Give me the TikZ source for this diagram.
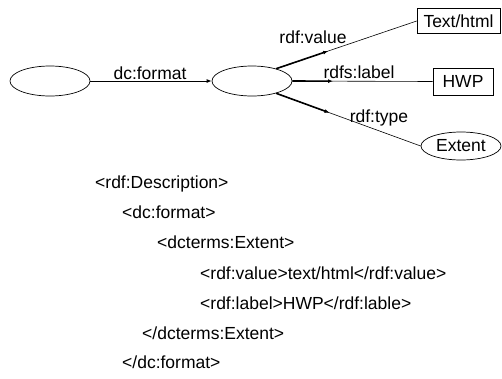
\documentclass[tikz,border=0pt]{standalone}
\usepackage{fontspec}
\setmainfont{Liberation Sans}
\usetikzlibrary{arrows.meta,calc,shapes.geometric}

\tikzset{
  resource/.style={draw, ellipse, line width=0.7pt, minimum width=80pt, minimum height=30pt, inner sep=0pt},
  literal/.style={draw, rectangle, line width=0.7pt, inner sep=0pt, font=\fontsize{17.5}{20}\selectfont},
  classnode/.style={draw, ellipse, line width=0.7pt, minimum width=80pt, minimum height=28pt, inner sep=0pt, font=\fontsize{17.5}{20}\selectfont},
  arcline/.style={line width=0.6pt},
  arcstart/.style={line width=1.6pt, -{Latex[length=5pt,width=4pt]}},
  plainarc/.style={line width=0.9pt, -{Latex[length=5pt,width=4pt]}},
  proplabel/.style={font=\fontsize{17.5}{20}\selectfont, inner sep=0pt},
  xmlline/.style={font=\fontsize{17.5}{20}\selectfont, inner sep=0pt, anchor=base west},
}

\begin{document}
\begin{tikzpicture}[x=1pt,y=-1pt]
  \useasboundingbox (0,0) rectangle (502,378);

  % graph nodes
  \node[resource] (subj) at (50,81) {};
  \node[resource] (obj) at (252,81) {};
  \node[literal, minimum width=83pt, minimum height=25pt] (tv) at (458.5,21) {Text/html};
  \node[literal, minimum width=60pt, minimum height=27pt] (hwp) at (463,81.5) {HWP};
  \node[classnode] (ext) at (461,146) {Extent};

  % dc:format
  \draw[plainarc] (subj.east) -- (obj.west);
  \node[proplabel, anchor=base] (lfmt) at (150,79.5) {dc:format};

  % rdf:value
  \draw[arcline] (obj.27) -- (tv.west);
  \draw[arcstart] (obj.27) -- ($(obj.27)!0.37!(tv.west)$);
  \node[proplabel, anchor=base] (lval) at (313,43) {rdf:value};

  % rdfs:label
  \draw[arcline] (obj.east) -- (hwp.west);
  \draw[arcstart] (obj.east) -- ($(obj.east)!0.29!(hwp.west)$);
  \node[proplabel, anchor=base] (llab) at (359,78) {rdfs:label};

  % rdf:type
  \draw[arcline] (obj.-27) -- (ext.west);
  \draw[arcstart] (obj.-27) -- ($(obj.-27)!0.37!(ext.west)$);
  \node[proplabel, anchor=base] (ltyp) at (379,122) {rdf:type};

  % RDF/XML serialisation
  \node[xmlline] (x1) at (95,188) {<rdf:Description>};
  \node[xmlline] (x2) at (122,218) {<dc:format>};
  \node[xmlline] (x3) at (157,248) {<dcterms:Extent>};
  \node[xmlline] (x4) at (200,279) {<rdf:value>text/html</rdf:value>};
  \node[xmlline] (x5) at (200,309) {<rdf:label>HWP</rdf:lable>};
  \node[xmlline] (x6) at (142,339) {</dcterms:Extent>};
  \node[xmlline] (x7) at (122,368) {</dc:format>};
\end{tikzpicture}
\end{document}
